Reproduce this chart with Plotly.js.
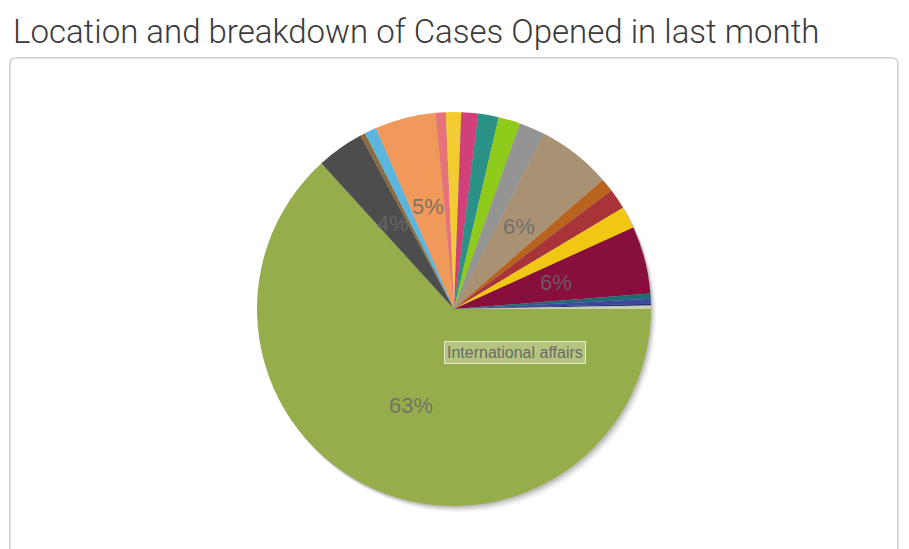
<!DOCTYPE html>
<html>
<head>
<meta charset="utf-8">
<script src="https://cdn.plot.ly/plotly-3.0.1.min.js"></script>
<style>
  html, body { margin: 0; padding: 0; background: #ffffff; }
  #chart { width: 909px; height: 549px; }
</style>
</head>
<body>
<div id="chart"></div>
<script>
// ---- Data (clockwise from 3 o'clock) ----
const chartTitle = "Location and breakdown of Cases Opened in last month";
const categories = [
  "International affairs", "Europe", "Middle East", "Oceania", "North America",
  "Central America", "Caribbean", "South America", "West Africa", "East Africa",
  "Southern Africa", "North Africa", "Central Asia", "South Asia", "East Asia",
  "South-East Asia", "Pacific Islands", "Arctic", "Antarctica", "Unspecified"
];
const caseCounts = [456, 28, 3, 7, 36, 6, 9, 10, 12, 13, 15, 44, 8, 12, 13, 40, 3, 3, 1, 2];
const sliceColors = [
  "#96ad4b", "#4d4d4d", "#8b6a3e", "#5bb5dd", "#f0995a",
  "#e8727a", "#f2cc30", "#d2407a", "#2a9186", "#8fcb1a",
  "#949494", "#a89273", "#b8631e", "#a8343a", "#f0c814",
  "#880e3e", "#1e6b74", "#3a48a0", "#23307a", "#c9ceb0"
];
const tooltipCategory = "International affairs";

// ---- Geometry (pixels) ----
const W = 909, H = 549;
const cx = 454, cy = 309, R = 197;
const px = x => x / W;
const py = y => 1 - y / H;

const pieDomain = { x: [px(cx - R), px(cx + R)], y: [py(cy + R), py(cy - R)] };
function shifted(dx, dy) {
  return { x: [px(cx - R + dx), px(cx + R + dx)], y: [py(cy + R + dy), py(cy - R + dy)] };
}

const traces = [
  { type: "pie", values: [1], labels: ["shadow1"], domain: shifted(5, 6),
    marker: { colors: ["rgba(0,0,0,0.05)"], line: { width: 0 } },
    textinfo: "none", hoverinfo: "skip", showlegend: false, sort: false },
  { type: "pie", values: [1], labels: ["shadow2"], domain: shifted(3, 4),
    marker: { colors: ["rgba(0,0,0,0.09)"], line: { width: 0 } },
    textinfo: "none", hoverinfo: "skip", showlegend: false, sort: false },
  { type: "pie", values: [1], labels: ["shadow3"], domain: shifted(1.5, 2),
    marker: { colors: ["rgba(0,0,0,0.12)"], line: { width: 0 } },
    textinfo: "none", hoverinfo: "skip", showlegend: false, sort: false },
  { type: "pie", values: caseCounts, labels: categories, domain: pieDomain,
    marker: { colors: sliceColors, line: { width: 0 } },
    sort: false, direction: "clockwise", rotation: 90,
    textinfo: "none", hoverinfo: "label+percent", showlegend: false }
];

// ---- Percent labels computed from data ----
const total = caseCounts.reduce((a, b) => a + b, 0);
const annotations = [];
let cum = 0;
caseCounts.forEach((v, i) => {
  const pct = v / total * 100;
  const midCW = (cum + v / 2) / total * 2 * Math.PI; // clockwise from east
  cum += v;
  if (pct >= 3.5) {
    const rr = 0.535 * R;
    const x = cx + rr * Math.cos(midCW);
    const y = cy + rr * Math.sin(midCW);
    annotations.push({
      x: px(x), y: py(y), xref: "paper", yref: "paper", showarrow: false,
      text: Math.round(pct) + "%",
      font: { family: "Liberation Sans, Arial, sans-serif", size: 22, color: "rgba(105,105,105,0.85)" },
      xanchor: "center", yanchor: "middle"
    });
  }
});
// tooltip-like label for the main slice
annotations.push({
  x: px(515), y: py(352.5), xref: "paper", yref: "paper", showarrow: false,
  text: tooltipCategory,
  font: { family: "Liberation Sans, Arial, sans-serif", size: 16, color: "#6b6b63" },
  bgcolor: "rgba(255,255,255,0.3)", bordercolor: "rgba(235,238,220,0.9)", borderwidth: 1, borderpad: 2,
  xanchor: "center", yanchor: "middle"
});

// ---- Card outline ----
const x0 = 9.5, x1 = 897.5, y0 = 57.5, yb = 570, rc = 6;
const cardPath = (ox, oy) =>
  `M ${px(x0+ox)},${py(yb)} L ${px(x0+ox)},${py(y0+oy+rc)} Q ${px(x0+ox)},${py(y0+oy)} ${px(x0+ox+rc)},${py(y0+oy)} ` +
  `L ${px(x1+ox-rc)},${py(y0+oy)} Q ${px(x1+ox)},${py(y0+oy)} ${px(x1+ox)},${py(y0+oy+rc)} L ${px(x1+ox)},${py(yb)}`;

const shapes = [
  { type: "path", xref: "paper", yref: "paper", path: cardPath(1, 1), line: { color: "#e6e6e6", width: 1.5 }, layer: "below" },
  { type: "path", xref: "paper", yref: "paper", path: cardPath(0, 0), line: { color: "#cccccc", width: 1 }, layer: "below" }
];

const layout = {
  width: W, height: H,
  margin: { l: 0, r: 0, t: 0, b: 0 },
  paper_bgcolor: "#ffffff",
  title: {
    text: chartTitle,
    x: px(13), xanchor: "left", xref: "paper",
    y: py(31), yanchor: "middle", yref: "paper",
    font: { family: "Roboto, sans-serif", size: 33, weight: 300, color: "#3a3a3a" }
  },
  annotations: annotations,
  shapes: shapes,
  showlegend: false
};

Plotly.newPlot("chart", traces, layout, { displayModeBar: false, staticPlot: true });
</script>
</body>
</html>
